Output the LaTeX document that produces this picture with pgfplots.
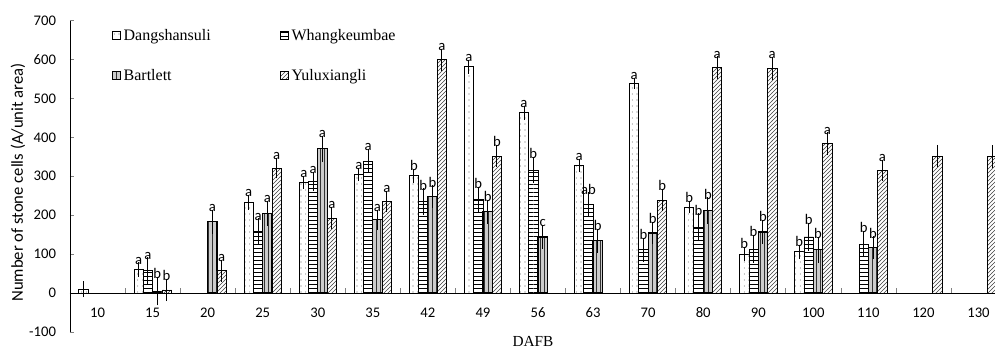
\documentclass[border=0pt]{standalone}
\usepackage{fontspec}
\setmainfont{Liberation Serif}
\newfontfamily\tickfont{Carlito}
\usepackage{pgfplots}
\pgfplotsset{compat=1.18}
\usepackage{pgfplotstable}
\usetikzlibrary{patterns}

\pgfdeclarepatternformonly{sparsedots}{\pgfqpoint{-0.5pt}{-0.5pt}}{\pgfqpoint{3.5pt}{4.5pt}}{\pgfqpoint{3.5pt}{4.5pt}}{\pgfpathcircle{\pgfqpoint{1.75pt}{2.25pt}}{0.4pt}\pgfusepath{fill}}

\pgfplotstableread{
x y e lab
0 10 12 {}
1 60 10 a
3 233 10 a
4 284 8 a
5 305 8 a
6 301 9 b
7 581 9 a
8 463 10 a
9 327 8 a
10 539 6 a
11 221 8 b
12 100 10 b
13 106 10 b
}\dang

\pgfplotstableread{
x y e lab
1 58 25 a
3 158 25 a
4 286 16 a
5 339 22 a
6 235 25 b
7 240 25 b
8 316 25 b
9 228 22 ab
10 111 22 b
11 169 27 b
12 113 27 b
13 144 27 b
14 126 25 b
}\whang

\pgfplotstableread{
x y e lab
1 5 28 b
2 183 22 a
3 204 23 a
4 371 25 a
5 188 18 a
6 248 20 b
7 209 22 b
8 144 22 c
9 134 22 b
10 154 20 b
11 212 25 b
12 157 22 b
13 111 25 b
14 117 20 b
}\bart

\pgfplotstableread{
x y e lab
1 8 20 b
2 57 20 a
3 321 18 a
4 192 20 a
5 235 18 a
6 599 20 a
7 352 20 b
10 239 20 b
11 579 20 a
12 577 20 a
13 384 20 a
14 315 18 a
15 352 20 {}
16 351 20 {}
}\yulu

\begin{document}
\begin{tikzpicture}
\path[use as bounding box] (-52.5pt,-12.75pt) rectangle (693.75pt,249pt);
\begin{axis}[
  at={(0pt,0pt)}, anchor=south west,
  scale only axis, width=693.75pt, height=233.625pt,
  ybar, bar width=7pt,
  xmin=-0.5, xmax=16.3, ymin=-100, ymax=700,
  axis y line=left, axis x line=middle,
  axis line style={-, line width=0.6pt},
  ytick={-100,0,100,200,300,400,500,600,700},
  ytick align=inside, major tick length=3pt,
  xtick={0,...,16},
  xticklabels={10,15,20,25,30,35,42,49,56,63,70,80,90,100,110,120,130},
  major x tick style={draw=none},
  minor xtick={0.5,1.5,...,15.5},
  minor tick length=4pt,
  xtick align=inside,
  minor x tick style={line width=0.5pt},
  tick label style={font=\tickfont\fontsize{11}{13}\selectfont},
  /pgf/number format/assume math mode=true,
  xticklabel style={yshift=-7.5pt},
  yticklabel style={xshift=-7pt},
  xlabel={DAFB},
  xlabel style={at={(axis description cs:0.5005,0)}, anchor=center, yshift=-6.75pt, font=\fontsize{11.5}{13}\selectfont},
  ylabel={Number of stone cells (A/unit area)},
  ylabel style={at={(axis description cs:-0.0562,0.48)}, anchor=center, font=\tickfont\fontsize{12.5}{14}\selectfont},
  legend columns=2,
  legend cell align=left,
  legend style={draw=none, fill=none, at={(0.041,0.99)}, anchor=north west,
    font=\fontsize{12}{14}\selectfont, row sep=16pt,
    /tikz/every even column/.append style={column sep=50pt}},
  legend image code/.code={\draw[#1, line width=0.6pt] (0pt,-3pt) rectangle (6pt,3pt);},
  error bars/y dir=both, error bars/y explicit,
  error bars/error mark options={mark size=2.5pt, line width=0.7pt},
  error bars/error bar style={line width=0.7pt},
  nodes near coords style={font=\tickfont\fontsize{11}{13}\selectfont, anchor=south, inner sep=1pt},
]
% bars
\addplot[bar shift=-10.5pt, draw=black, line width=0.6pt, fill=white, postaction={pattern=sparsedots, pattern color=black!60}]
  table[x=x, y=y, y error=e] {\dang};
\addlegendentry{Dangshansuli}
\addplot[bar shift=-3.5pt, draw=black, line width=0.6pt, fill=white, postaction={pattern=horizontal lines, pattern color=black}]
  table[x=x, y=y, y error=e] {\whang};
\addlegendentry{Whangkeumbae}
\addplot[bar shift=3.5pt, draw=black, line width=0.9pt, fill=black!20, postaction={pattern=vertical lines, pattern color=black!80}]
  table[x=x, y=y, y error=e] {\bart};
\addlegendentry{Bartlett}
\addplot[bar shift=10.5pt, draw=black, line width=0.6pt, fill=white, postaction={pattern=north east lines, pattern color=black!75}]
  table[x=x, y=y, y error=e] {\yulu};
\addlegendentry{Yuluxiangli}
% letters above error bars
\addplot[forget plot, bar shift=-10.5pt, draw=none, fill=none, error bars/y dir=none, nodes near coords, point meta=explicit symbolic]
  table[x=x, y expr=\thisrow{y}+\thisrow{e}, meta=lab] {\dang};
\addplot[forget plot, bar shift=-3.5pt, draw=none, fill=none, error bars/y dir=none, nodes near coords, point meta=explicit symbolic]
  table[x=x, y expr=\thisrow{y}+\thisrow{e}, meta=lab] {\whang};
\addplot[forget plot, bar shift=3.5pt, draw=none, fill=none, error bars/y dir=none, nodes near coords, point meta=explicit symbolic]
  table[x=x, y expr=\thisrow{y}+\thisrow{e}, meta=lab] {\bart};
\addplot[forget plot, bar shift=10.5pt, draw=none, fill=none, error bars/y dir=none, nodes near coords, point meta=explicit symbolic]
  table[x=x, y expr=\thisrow{y}+\thisrow{e}, meta=lab] {\yulu};
\end{axis}
\end{tikzpicture}
\end{document}
